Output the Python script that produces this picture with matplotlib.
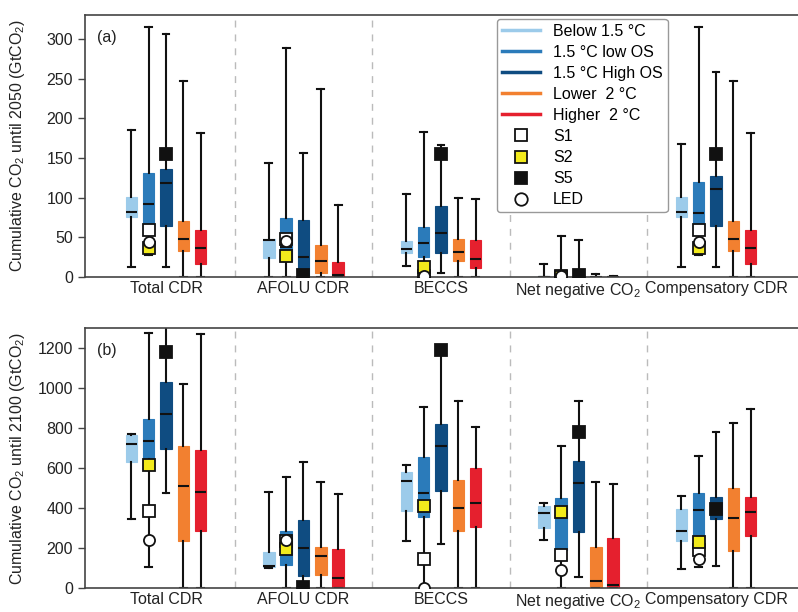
import matplotlib
matplotlib.use("Agg")
import matplotlib.pyplot as plt
from matplotlib.lines import Line2D

plt.rcParams['font.family'] = ['Liberation Sans', 'DejaVu Sans']
plt.rcParams['mathtext.default'] = 'regular'
plt.rcParams['font.size'] = 11.5

categories = ["Total CDR", "AFOLU CDR", "BECCS", "Net negative CO$_2$", "Compensatory CDR"]
scenarios = ["Below 1.5 \u00b0C", "1.5 \u00b0C low OS", "1.5 \u00b0C High OS", "Lower  2 \u00b0C", "Higher  2 \u00b0C"]
colors = ["#9ccbea", "#2b7bba", "#0f4c81", "#f28030", "#e5202e"]

# panel (a): cumulative until 2050, rows = categories, cols = scenarios
a_hi = [[185, 315, 306, 247, 181],
        [143, 288, 156, 237, 91],
        [104, 182, 166, 100, 98],
        [16, 52, 47, 3.5, 1],
        [167, 315, 258, 247, 181]]
a_q3 = [[101, 131, 136, 71, 59],
        [48, 74, 72, 40, 19],
        [45, 63, 89, 48, 46],
        [1, 3, 3, 0.5, 0.3],
        [101, 120, 127, 71, 59]]
a_med = [[82, 92, 118, 48, 37],
         [46, 38, 25, 20, 2],
         [35, 43, 56, 31, 23],
         [0.3, 1, 1, 0, 0],
         [82, 80, 111, 48, 37]]
a_q1 = [[76, 66, 64, 33, 16],
        [24, 20, 0, 5, 0],
        [30, 25, 30, 20, 11],
        [0, 0, 0, 0, 0],
        [76, 66, 64, 33, 16]]
a_lo = [[13, 28, 12, 0, 0],
        [0, 0, 0, 0, 0],
        [14, 0, 5, 0, 0],
        [0, 0, 0, 0, 0],
        [13, 28, 12, 0, 0]]
a_s1 = [59, 48, 1, 1.5, 59]
a_s2 = [36, 26, 13, 0.5, 36]
a_s5 = [155, 2, 155, 2, 155]
a_led = [44, 45, 1, 1, 44]

# panel (b): cumulative until 2100
b_hi = [[768, 1273, 1320, 1018, 1268],
        [478, 557, 632, 528, 468],
        [613, 907, 1190, 937, 807],
        [423, 710, 937, 528, 520],
        [462, 660, 782, 827, 895]]
b_q3 = [[765, 843, 1032, 710, 690],
        [178, 285, 340, 203, 195],
        [578, 653, 820, 540, 598],
        [412, 448, 637, 207, 248],
        [395, 473, 453, 502, 457]]
b_med = [[718, 735, 868, 510, 482],
         [112, 220, 198, 160, 52],
         [537, 477, 710, 402, 423],
         [377, 380, 523, 37, 15],
         [287, 390, 400, 352, 378]]
b_q1 = [[632, 643, 693, 237, 285],
        [103, 115, 60, 65, 0],
        [385, 357, 485, 285, 305],
        [298, 190, 278, 0, 0],
        [237, 190, 345, 185, 260]]
b_lo = [[343, 107, 477, 0, 0],
        [100, 0, 0, 0, 0],
        [235, 0, 218, 0, 0],
        [240, 0, 57, 0, 0],
        [95, 103, 112, 0, 0]]
b_s1 = [385, 235, 145, 165, 190]
b_s2 = [615, 193, 410, 378, 232]
b_s5 = [1182, 5, 1190, 778, 393]
b_led = [240, 240, 0, 90, 143]

step = 0.126
spine_c = "#444444"


def draw_panel(ax, hi, q3, med, q1, lo, s1, s2, s5, led, ylim, yticks, ylabel, tag):
    for i in range(len(categories)):
        for j in range(len(scenarios)):
            pos = i + (j - 2) * step
            st = [dict(med=med[i][j], q1=q1[i][j], q3=q3[i][j],
                       whislo=lo[i][j], whishi=hi[i][j])]
            ax.bxp(st, positions=[pos], widths=0.084, patch_artist=True,
                   showfliers=False, manage_ticks=False, capwidths=0.05,
                   boxprops=dict(facecolor=colors[j], edgecolor=colors[j], lw=0.8),
                   medianprops=dict(color="#111111", lw=1.5),
                   whiskerprops=dict(color="#111111", lw=1.5),
                   capprops=dict(color="#111111", lw=1.5))
        xlow = i - step
        xhigh = i
        ax.plot(xlow, s1[i], "s", ms=8, mfc="white", mec="#111111", mew=1.3, zorder=4)
        ax.plot(xlow, s2[i], "s", ms=8, mfc="#f2ea1c", mec="#111111", mew=1.3, zorder=4)
        ax.plot(xhigh, s5[i], "s", ms=8, mfc="#111111", mec="#111111", mew=1.3, zorder=4)
        ax.plot(xlow, led[i], "o", ms=8, mfc="white", mec="#111111", mew=1.3, zorder=4)

    for d in [0.5, 1.5, 2.5, 3.5]:
        ax.axvline(d, color="#bbbbbb", ls=(0, (5, 5)), lw=1, zorder=0)

    ax.set_xlim(-0.589, 4.596)
    ax.set_ylim(*ylim)
    ax.set_yticks(yticks)
    ax.set_xticks(range(len(categories)))
    ax.set_xticklabels(categories)
    ax.tick_params(axis="x", length=0, pad=3, labelsize=11.5, colors="#222222")
    ax.tick_params(axis="y", length=5, width=1, labelsize=11.5, colors=spine_c, labelcolor="#222222")
    ax.spines["right"].set_visible(False)
    for s in ["top", "left", "bottom"]:
        ax.spines[s].set_color(spine_c)
        ax.spines[s].set_linewidth(1.2)
    ax.set_ylabel(ylabel, fontsize=11.5, color="#222222")
    ax.yaxis.set_label_coords(-0.081, 0.5)
    ax.text(0.017, 0.915, tag, transform=ax.transAxes, fontsize=11.5, va="center", color="#222222")


fig = plt.figure(figsize=(7.98, 6.12), dpi=100)
ax_a = fig.add_axes([0.1065, 0.5474, 0.8935, 0.4281])
ax_b = fig.add_axes([0.1065, 0.0392, 0.8935, 0.4248])

draw_panel(ax_a, a_hi, a_q3, a_med, a_q1, a_lo, a_s1, a_s2, a_s5, a_led,
           (0, 330), range(0, 301, 50),
           "Cumulative CO$_2$ until 2050 (GtCO$_2$)", "(a)")
draw_panel(ax_b, b_hi, b_q3, b_med, b_q1, b_lo, b_s1, b_s2, b_s5, b_led,
           (0, 1300), range(0, 1201, 200),
           "Cumulative CO$_2$ until 2100 (GtCO$_2$)", "(b)")

handles = [Line2D([], [], color=c, lw=2.5) for c in colors]
handles += [
    Line2D([], [], ls="none", marker="s", ms=9, mfc="white", mec="#111111", mew=1.3),
    Line2D([], [], ls="none", marker="s", ms=9, mfc="#f2ea1c", mec="#111111", mew=1.3),
    Line2D([], [], ls="none", marker="s", ms=9, mfc="#111111", mec="#111111", mew=1.3),
    Line2D([], [], ls="none", marker="o", ms=9, mfc="white", mec="#111111", mew=1.3),
]
labels = scenarios + ["S1", "S2", "S5", "LED"]
leg = ax_a.legend(handles, labels, loc="upper left", bbox_to_anchor=(0.578, 0.985),
                  borderaxespad=0, fontsize=11.5, framealpha=1, edgecolor="#999999",
                  handlelength=2.4, borderpad=0.3, labelspacing=0.38, handletextpad=0.8)
leg.set_zorder(10)

fig.savefig("out.png", dpi=100)
